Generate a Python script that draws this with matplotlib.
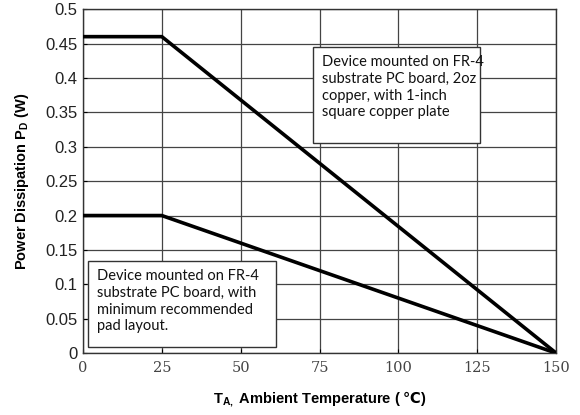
import matplotlib
matplotlib.use("Agg")

import matplotlib.pyplot as plt
from matplotlib.patches import Rectangle

# derating curves
temp = [0, 25, 150]
pd_copper = [0.46, 0.46, 0.0]
pd_minpad = [0.20, 0.20, 0.0]

x_ticks = [0, 25, 50, 75, 100, 125, 150]
y_ticks = [0, 0.05, 0.1, 0.15, 0.2, 0.25, 0.3, 0.35, 0.4, 0.45, 0.5]
y_labels = ["0", "0.05", "0.1", "0.15", "0.2", "0.25", "0.3", "0.35", "0.4", "0.45", "0.5"]

note_copper = "Device mounted on FR-4\nsubstrate PC board, 2oz\ncopper, with 1-inch\nsquare copper plate"
note_minpad = "Device mounted on FR-4\nsubstrate PC board, with\nminimum recommended\npad layout."

plt.rcParams["mathtext.fontset"] = "custom"
plt.rcParams["mathtext.rm"] = "Liberation Sans"
plt.rcParams["mathtext.bf"] = "Liberation Sans:bold"
plt.rcParams["mathtext.sf"] = "DejaVu Sans:bold"

fig = plt.figure(figsize=(5.8, 4.15), dpi=100)
ax = fig.add_axes([0.143, 0.149, 0.816, 0.829])

ax.plot(temp, pd_copper, color="black", lw=2.6, solid_joinstyle="miter", zorder=3)
ax.plot(temp, pd_minpad, color="black", lw=2.6, solid_joinstyle="miter", zorder=3)

ax.set_xlim(0, 150)
ax.set_ylim(0, 0.5)
ax.set_xticks(x_ticks)
ax.set_xticklabels([str(t) for t in x_ticks], family="DejaVu Serif", fontsize=10.5, color="#444444")
ax.set_yticks(y_ticks)
ax.set_yticklabels(y_labels, family="Liberation Sans", fontsize=12, color="#222222")
ax.tick_params(axis="both", length=3, direction="in", width=0.8)
ax.tick_params(axis="y", pad=4)
ax.tick_params(axis="x", pad=6)
ax.grid(True, color="#444444", lw=0.9)
for s in ax.spines.values():
    s.set_color("#333333")
    s.set_linewidth(1.0)

ax.set_ylabel(r"Power Dissipation P$_\mathbf{D}$ (W)", family="Liberation Sans",
              fontweight="bold", fontsize=10.5, labelpad=10)
ax.set_xlabel(r"T$_\mathbf{A,}$ Ambient Temperature ( $\mathsf{℃}$)", family="Liberation Sans",
              fontweight="bold", fontsize=10.5, labelpad=10)

# annotation boxes
boxes = [((72.9, 0.305), 53.0, 0.140, note_copper), ((1.6, 0.009), 59.6, 0.125, note_minpad)]
for (bx, by), bw, bh, txt in boxes:
    ax.add_patch(Rectangle((bx, by), bw, bh, facecolor="white", edgecolor="#333333",
                           lw=1.0, zorder=4))
    ax.text(bx + 3.0, by + bh - 0.012, txt, family="Lato", fontsize=10.5, va="top",
            ha="left", linespacing=1.25, color="#111111", zorder=5)

fig.savefig("out.png", dpi=100)
